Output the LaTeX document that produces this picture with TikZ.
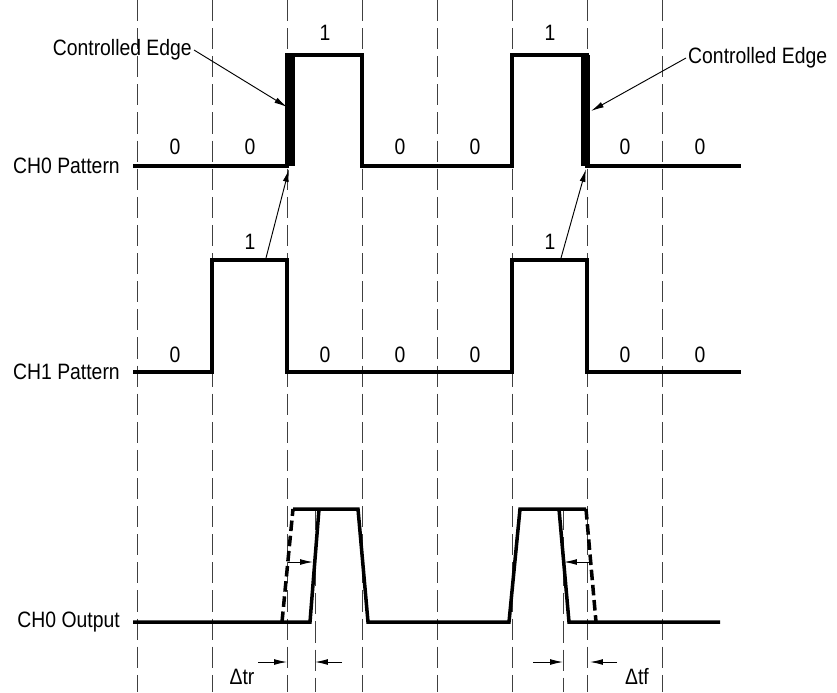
\documentclass[tikz,border=0pt]{standalone}
\usepackage{fontspec}
\setmainfont{Liberation Sans}
\usetikzlibrary{arrows.meta}

\begin{document}
\begin{tikzpicture}[x=0.03cm, y=-0.03cm, >={Latex[length=11pt,width=5pt]},
    every node/.style={font=\fontsize{19pt}{22pt}\selectfont, inner sep=2pt,
      xscale=0.87, transform shape},
    grid/.style={black!75, line width=0.75pt, dash pattern=on 18pt off 6pt},
    wave/.style={line width=3pt, line join=miter},
    shifted/.style={line width=3pt, dash pattern=on 9pt off 4pt},
    pointer/.style={->, line width=0.8pt}]
  \useasboundingbox (0,0) rectangle (837,692);

  % time slots
  \foreach \x in {137,212,...,662}
    \draw[grid] (\x,0) -- (\x,692);
  \draw[grid] (315,509) -- (315,692);
  \draw[grid] (563,509) -- (563,692);

  % channel names
  \node[anchor=east] (ch0) at (122,166) {CH0 Pattern};
  \node[anchor=east] (ch1) at (122,372) {CH1 Pattern};
  \node[anchor=east] (out) at (122,622) {CH0 Output};

  % CH0 pattern
  \draw[wave] (133,166) -- (287,166) -- (287,55) -- (362,55) -- (362,166) -- (512,166)
    -- (512,55) -- (587,55) -- (587,166) -- (741,166);
  \fill (286,55) rectangle (295,166);
  \fill (581,55) rectangle (590,166);
  \foreach \x/\y/\v [count=\i] in {175/147/0, 250/147/0, 325/33/1, 400/147/0,
      475/147/0, 550/33/1, 625/147/0, 700/147/0}
    \node (a\i) at (\x,\y) {\v};

  % CH1 pattern
  \draw[wave] (133,372) -- (212,372) -- (212,260) -- (287,260) -- (287,372) -- (512,372)
    -- (512,260) -- (587,260) -- (587,372) -- (741,372);
  \foreach \x/\y/\v [count=\i] in {175/355/0, 250/242/1, 325/355/0, 400/355/0,
      475/355/0, 550/242/1, 625/355/0, 700/355/0}
    \node (b\i) at (\x,\y) {\v};

  % controlled edges
  \node[anchor=east] (ce1) at (194,50) {Controlled Edge};
  \node[anchor=west] (ce2) at (686,58) {Controlled Edge};
  \coordinate (rise) at (287,107);
  \coordinate (fall) at (591,111);
  \coordinate (risefoot) at (289,169);
  \coordinate (fallfoot) at (586,169);
  \coordinate (t1) at (266,258);
  \coordinate (t2) at (561,258);
  \draw[pointer] (ce1.east) -- (rise);
  \draw[pointer] (ce2.west) -- (fall);
  \draw[pointer] (t1) -- (risefoot);
  \draw[pointer] (t2) -- (fallfoot);

  % CH0 output
  \draw[wave] (133,622) -- (310,622) -- (319,509);
  \draw[wave] (293,509) -- (358,509) -- (368,622) -- (509,622) -- (520,509) -- (586,509);
  \draw[wave] (559,509) -- (569,622) -- (720,622);
  \draw[shifted] (282,622) -- (293,509);
  \draw[shifted] (586,509) -- (596,622);
  \coordinate (r1) at (288,562);
  \coordinate (r2) at (313,562);
  \coordinate (f1) at (590,562);
  \coordinate (f2) at (564,562);
  \draw[pointer] (r1) -- (r2);
  \draw[pointer] (f1) -- (f2);

  % skew marks
  \coordinate (tr1) at (258,662);
  \coordinate (tr2) at (287,662);
  \coordinate (tr3) at (342,662);
  \coordinate (tr4) at (315,662);
  \coordinate (tf1) at (533,662);
  \coordinate (tf2) at (563,662);
  \coordinate (tf3) at (617,662);
  \coordinate (tf4) at (590,662);
  \draw[pointer] (tr1) -- (tr2);
  \draw[pointer] (tr3) -- (tr4);
  \draw[pointer] (tf1) -- (tf2);
  \draw[pointer] (tf3) -- (tf4);
  \node (dtr) at (242,677) {Δtr};
  \node (dtf) at (637,677) {Δtf};
\end{tikzpicture}
\end{document}
